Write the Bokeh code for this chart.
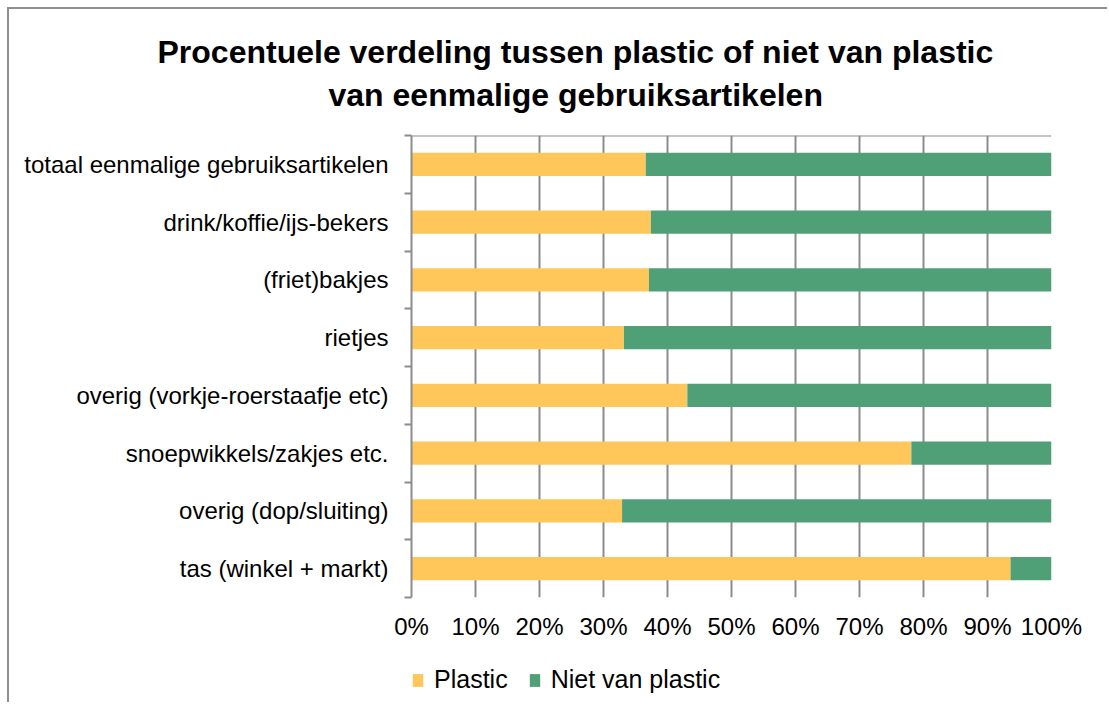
from bokeh.plotting import figure
from bokeh.models import (FixedTicker, Legend, LegendItem, ColumnDataSource,
                          PrintfTickFormatter, Range1d, Title)
from bokeh.layouts import column
from bokeh.embed import file_html
from bokeh.resources import INLINE

categories = [
    "totaal eenmalige gebruiksartikelen",
    "drink/koffie/ijs-bekers",
    "(friet)bakjes",
    "rietjes",
    "overig (vorkje-roerstaafje etc)",
    "snoepwikkels/zakjes etc.",
    "overig (dop/sluiting)",
    "tas (winkel + markt)",
]
plastic = [36.6, 37.4, 37.1, 33.2, 43.1, 78.1, 32.9, 93.6]
niet_plastic = [63.4, 62.6, 62.9, 66.8, 56.9, 21.9, 67.1, 6.4]
series_names = ["Plastic", "Niet van plastic"]
x_ticks = [0, 10, 20, 30, 40, 50, 60, 70, 80, 90, 100]
title_lines = ["Procentuele verdeling tussen plastic of niet van plastic",
               "van eenmalige gebruiksartikelen"]

YELLOW = "#FFC65A"
GREEN = "#50A077"
GRID = "#8c8c8c"
FONT = "Liberation Sans"

n = len(categories)
ypos = [n - i - 0.5 for i in range(n)]
source = ColumnDataSource(dict(y=ypos, plastic=plastic, niet=niet_plastic, cat=categories))

p = figure(frame_width=640, frame_height=462, output_backend="svg", toolbar_location=None,
           x_range=Range1d(0, 100), y_range=Range1d(0, n),
           min_border_left=402, min_border_right=56, min_border_top=126, min_border_bottom=55)
p.outline_line_color = None
p.background_fill_color = "white"
p.border_fill_color = "white"

rs = p.hbar_stack(["plastic", "niet"], y="y", height=0.4, color=[YELLOW, GREEN],
                  line_color=None, source=source)

# x axis
p.xaxis.ticker = FixedTicker(ticks=x_ticks)
p.xaxis.formatter = PrintfTickFormatter(format="%d%%")
p.xaxis.axis_line_color = None
p.xaxis.major_tick_line_color = None
p.xaxis.minor_tick_line_color = None
p.xaxis.major_label_standoff = 9
p.xaxis.major_label_text_font = FONT
p.xaxis.major_label_text_font_size = "24px"
p.xaxis.major_label_text_color = "black"

# y axis
p.yaxis.ticker = FixedTicker(ticks=ypos, minor_ticks=list(range(n + 1)))
p.yaxis.major_label_overrides = {y: c for y, c in zip(ypos, categories)}
p.yaxis.axis_line_color = GRID
p.yaxis.axis_line_width = 2
p.yaxis.major_tick_line_color = None
p.yaxis.minor_tick_line_color = GRID
p.yaxis.minor_tick_line_width = 2
p.yaxis.minor_tick_out = 7
p.yaxis.minor_tick_in = 0
p.yaxis.major_label_standoff = 16
p.yaxis.major_label_text_font = FONT
p.yaxis.major_label_text_font_size = "24px"
p.yaxis.major_label_text_color = "black"

# grids
p.xgrid.ticker = FixedTicker(ticks=x_ticks)
p.xgrid.grid_line_color = GRID
p.xgrid.grid_line_width = 2
p.ygrid.ticker = FixedTicker(ticks=[n - 0.004])
p.ygrid.grid_line_color = GRID
p.ygrid.grid_line_width = 2

# title: second line nearest the frame, then first line
p.add_layout(Title(text=title_lines[1], align="left", offset=-83, standoff=45,
                   text_font=FONT, text_font_style="bold", text_font_size="32px",
                   text_color="black"), "above")
p.add_layout(Title(text=title_lines[0], align="left", offset=-254, standoff=-35,
                   text_font=FONT, text_font_style="bold", text_font_size="32px",
                   text_color="black"), "above")

# legend in its own strip below the chart (swatch renderers sit outside the visible range)
lg = figure(width=1098, height=50, output_backend="svg", toolbar_location=None,
            x_range=Range1d(0, 1), y_range=Range1d(0, 1), min_border=0)
lg.axis.visible = False
lg.grid.visible = False
lg.outline_line_color = None
lg.background_fill_color = "white"
lg.border_fill_color = "white"
swatch = ColumnDataSource(dict(y=[-5], right=[0]))
r_pl = lg.hbar(y="y", right="right", height=0.4, color=YELLOW, line_color=None, source=swatch)
r_np = lg.hbar(y="y", right="right", height=0.4, color=GREEN, line_color=None, source=swatch)
legend = Legend(items=[LegendItem(label=series_names[0], renderers=[r_pl]),
                       LegendItem(label=series_names[1], renderers=[r_np])],
                location=(0, 8), orientation="horizontal",
                border_line_color=None, background_fill_alpha=0,
                padding=0, margin=0, spacing=20, glyph_width=13, glyph_height=16,
                label_standoff=10, label_text_font=FONT, label_text_font_size="25px",
                label_text_color="black")
lg.add_layout(legend)

layout = column(p, lg, spacing=0)
layout.styles = {"margin-left": "7px", "margin-top": "7px",
                 "border-left": "2px solid #8f8f8f", "border-top": "2px solid #8f8f8f"}

open("out.html", "w").write(file_html(layout, INLINE))
